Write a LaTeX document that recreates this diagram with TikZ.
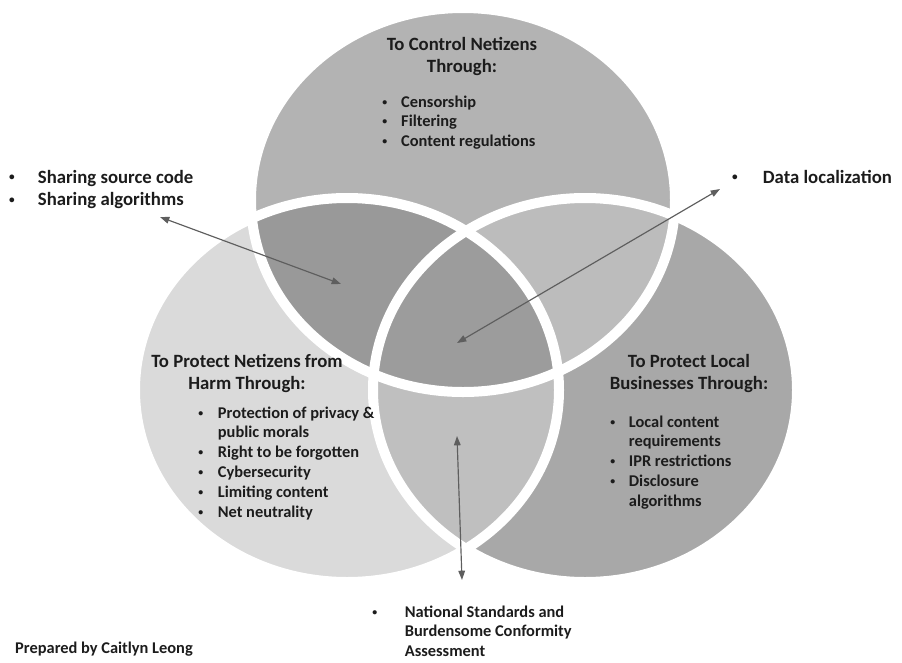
\documentclass[tikz,border=0pt]{standalone}
\usepackage{fontspec}
\usepackage{graphicx}
\setmainfont{Carlito}
\usetikzlibrary{arrows.meta}

\definecolor{ink}{HTML}{1C1C1C}
\definecolor{linkgray}{HTML}{5E5E5E}
\definecolor{controlgray}{HTML}{B3B3B3}
\definecolor{harmgray}{HTML}{DADADA}
\definecolor{businessgray}{HTML}{A8A8A8}
\definecolor{controlharm}{HTML}{999999}
\definecolor{controlbusiness}{HTML}{BCBCBC}
\definecolor{harmbusiness}{HTML}{BFBFBF}
\definecolor{allthree}{HTML}{9C9C9C}

% small list bullet in a box of fixed width
\newcommand{\dotmark}{\makebox[2.2mm]{\raisebox{0.25ex}{\scalebox{0.6}{\textbullet}}}}

\begin{document}
\begin{tikzpicture}[x=0.3mm, y=-0.3mm,
    blob/.style = {x radius=63.6mm, y radius=57.6mm},
    ring/.style = {draw=white, line width=3mm},
    head/.style = {font=\fontsize{16}{19.6}\selectfont\bfseries, text=ink, inner sep=0pt, anchor=base},
    list/.style = {font=\fontsize{14}{17}\selectfont\bfseries, text=ink, inner sep=0pt, anchor=base west},
    side/.style = {font=\fontsize{16}{19.6}\selectfont\bfseries, text=ink, inner sep=0pt, anchor=base west},
    link/.style = {draw=linkgray, line width=0.35mm, {Triangle[length=2.8mm,width=2mm]}-{Triangle[length=2.8mm,width=2mm]}}]
    \useasboundingbox (0,0) rectangle (902,662);

    % centres of the three sets
    \coordinate (control) at (463,200);
    \coordinate (harm) at (347,390);
    \coordinate (business) at (585,390);

    % plain sets
    \fill[controlgray] (control) ellipse [blob];
    \fill[harmgray] (harm) ellipse [blob];
    \fill[businessgray] (business) ellipse [blob];

    % overlaps
    \begin{scope}
        \clip (control) ellipse [blob];
        \fill[controlharm] (harm) ellipse [blob];
        \fill[controlbusiness] (business) ellipse [blob];
    \end{scope}
    \begin{scope}
        \clip (harm) ellipse [blob];
        \fill[harmbusiness] (business) ellipse [blob];
        \clip (business) ellipse [blob];
        \fill[allthree] (control) ellipse [blob];
    \end{scope}

    % white gaps between the sets
    \draw[ring] (control) ellipse [blob];
    \draw[ring] (harm) ellipse [blob];
    \draw[ring] (business) ellipse [blob];

    % set titles and their items
    \node[head] (controltitle) at (462,50) {\begin{tabular}[t]{@{}c@{}}To Control Netizens\\Through:\end{tabular}};
    \node[list] (controllist) at (381,107) {\begin{tabular}[t]{@{}l@{\hspace{3.8mm}}l@{}}
        \dotmark & Censorship\\
        \dotmark & Filtering\\
        \dotmark & Content regulations
    \end{tabular}};

    \node[head] (harmtitle) at (247,367) {\begin{tabular}[t]{@{}c@{}}To Protect Netizens from\\Harm Through:\end{tabular}};
    \node[list] (harmlist) at (197,418) {\begin{tabular}[t]{@{}l@{\hspace{4mm}}l@{}}
        \dotmark & Protection of privacy \&\\
                 & public morals\\
        \dotmark & Right to be forgotten\\
        \dotmark & Cybersecurity\\
        \dotmark & Limiting content\\
        \dotmark & Net neutrality
    \end{tabular}};

    \node[head] (businesstitle) at (689,367) {\begin{tabular}[t]{@{}c@{}}To Protect Local\\Businesses Through:\end{tabular}};
    \node[list] (businesslist) at (609,427) {\begin{tabular}[t]{@{}l@{\hspace{3.7mm}}l@{}}
        \dotmark & Local content\\
                 & requirements\\
        \dotmark & IPR restrictions\\
        \dotmark & Disclosure\\
                 & algorithms
    \end{tabular}};

    % items outside the sets
    \node[side] (sharing) at (8,183) {\begin{tabular}[t]{@{}l@{\hspace{6.7mm}}l@{}}
        \dotmark & Sharing source code\\
        \dotmark & Sharing algorithms
    \end{tabular}};
    \node[side] (localization) at (731,183) {\dotmark\hspace{7.3mm}Data localization};
    \node[list] (standards) at (371,617) {\begin{tabular}[t]{@{}l@{\hspace{7.9mm}}l@{}}
        \dotmark & National Standards and\\
                 & Burdensome Conformity\\
                 & Assessment
    \end{tabular}};
    \node[list] (credit) at (15,653) {Prepared by Caitlyn Leong};

    % arrows into the overlaps
    \coordinate (sharing end) at (160,217);
    \coordinate (sharing tip) at (341,284);
    \coordinate (localization end) at (720,189);
    \coordinate (localization tip) at (457,343);
    \coordinate (standards end) at (462,580);
    \coordinate (standards tip) at (457,436);
    \draw[link] (sharing end) -- (sharing tip);
    \draw[link] (localization end) -- (localization tip);
    \draw[link] (standards end) -- (standards tip);
\end{tikzpicture}
\end{document}
